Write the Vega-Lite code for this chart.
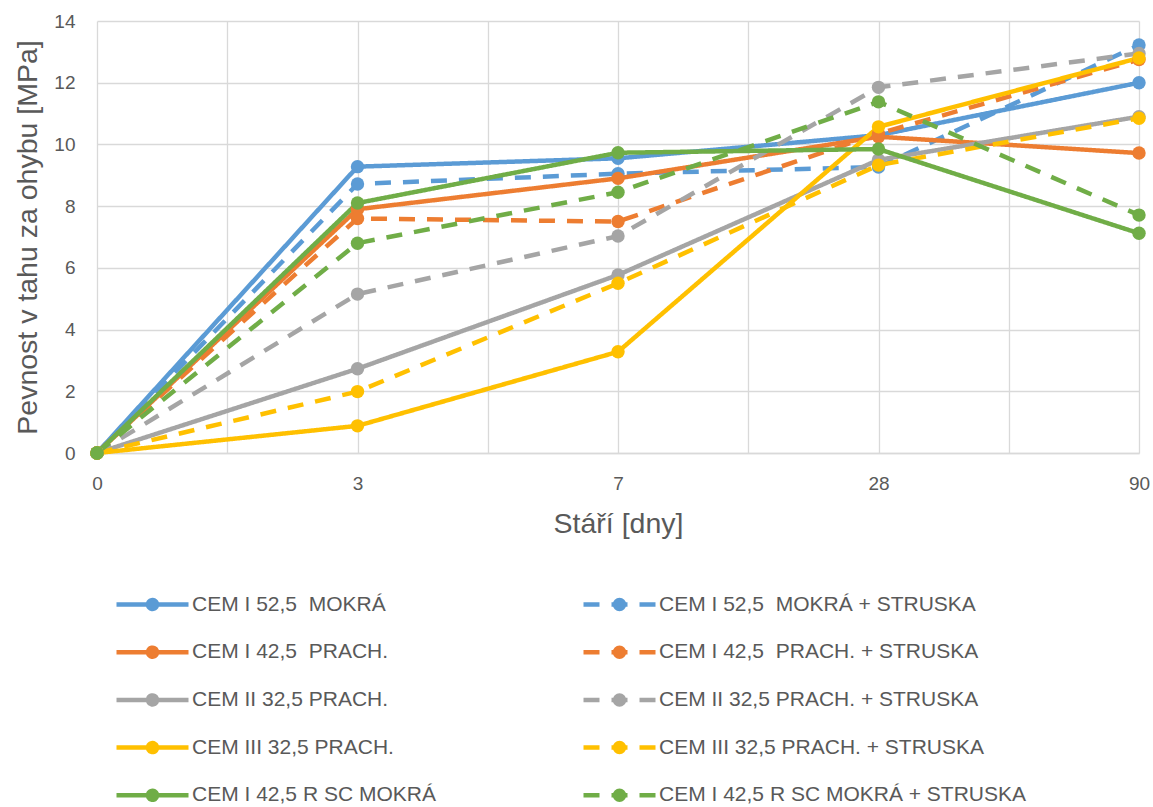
{
  "$schema": "https://vega.github.io/schema/vega-lite/v6.json",
  "autosize": "none",
  "width": 1042,
  "height": 432,
  "padding": {"left": 97, "top": 21, "right": 14, "bottom": 354},
  "background": "white",
  "config": {
    "font": "Liberation Sans",
    "view": {"stroke": null},
    "axis": {"labelColor": "#595959", "titleColor": "#595959", "labelFont": "Liberation Sans", "titleFont": "Liberation Sans", "labelFontSize": 19, "titleFontSize": 28.5, "titleFontWeight": "normal", "gridColor": "#D9D9D9", "gridWidth": 1.3, "ticks": false}
  },
  "datasets": {
    "pts": [
      {"s": "CEM I 52,5  MOKRÁ", "i": 0, "t": "0", "v": 0},
      {"s": "CEM I 52,5  MOKRÁ", "i": 1, "t": "3", "v": 9.28},
      {"s": "CEM I 52,5  MOKRÁ", "i": 2, "t": "7", "v": 9.55},
      {"s": "CEM I 52,5  MOKRÁ", "i": 3, "t": "28", "v": 10.3},
      {"s": "CEM I 52,5  MOKRÁ", "i": 4, "t": "90", "v": 12.0},
      {"s": "CEM I 52,5  MOKRÁ + STRUSKA", "i": 0, "t": "0", "v": 0},
      {"s": "CEM I 52,5  MOKRÁ + STRUSKA", "i": 1, "t": "3", "v": 8.72},
      {"s": "CEM I 52,5  MOKRÁ + STRUSKA", "i": 2, "t": "7", "v": 9.05},
      {"s": "CEM I 52,5  MOKRÁ + STRUSKA", "i": 3, "t": "28", "v": 9.27},
      {"s": "CEM I 52,5  MOKRÁ + STRUSKA", "i": 4, "t": "90", "v": 13.22},
      {"s": "CEM I 42,5  PRACH.", "i": 0, "t": "0", "v": 0},
      {"s": "CEM I 42,5  PRACH.", "i": 1, "t": "3", "v": 7.9},
      {"s": "CEM I 42,5  PRACH.", "i": 2, "t": "7", "v": 8.9},
      {"s": "CEM I 42,5  PRACH.", "i": 3, "t": "28", "v": 10.25},
      {"s": "CEM I 42,5  PRACH.", "i": 4, "t": "90", "v": 9.72},
      {"s": "CEM I 42,5  PRACH. + STRUSKA", "i": 0, "t": "0", "v": 0},
      {"s": "CEM I 42,5  PRACH. + STRUSKA", "i": 1, "t": "3", "v": 7.6},
      {"s": "CEM I 42,5  PRACH. + STRUSKA", "i": 2, "t": "7", "v": 7.5},
      {"s": "CEM I 42,5  PRACH. + STRUSKA", "i": 3, "t": "28", "v": 10.35},
      {"s": "CEM I 42,5  PRACH. + STRUSKA", "i": 4, "t": "90", "v": 12.75},
      {"s": "CEM II 32,5 PRACH.", "i": 0, "t": "0", "v": 0},
      {"s": "CEM II 32,5 PRACH.", "i": 1, "t": "3", "v": 2.73},
      {"s": "CEM II 32,5 PRACH.", "i": 2, "t": "7", "v": 5.77},
      {"s": "CEM II 32,5 PRACH.", "i": 3, "t": "28", "v": 9.5},
      {"s": "CEM II 32,5 PRACH.", "i": 4, "t": "90", "v": 10.9},
      {"s": "CEM II 32,5 PRACH. + STRUSKA", "i": 0, "t": "0", "v": 0},
      {"s": "CEM II 32,5 PRACH. + STRUSKA", "i": 1, "t": "3", "v": 5.15},
      {"s": "CEM II 32,5 PRACH. + STRUSKA", "i": 2, "t": "7", "v": 7.03},
      {"s": "CEM II 32,5 PRACH. + STRUSKA", "i": 3, "t": "28", "v": 11.85},
      {"s": "CEM II 32,5 PRACH. + STRUSKA", "i": 4, "t": "90", "v": 12.95},
      {"s": "CEM III 32,5 PRACH.", "i": 0, "t": "0", "v": 0},
      {"s": "CEM III 32,5 PRACH.", "i": 1, "t": "3", "v": 0.88},
      {"s": "CEM III 32,5 PRACH.", "i": 2, "t": "7", "v": 3.28},
      {"s": "CEM III 32,5 PRACH.", "i": 3, "t": "28", "v": 10.57},
      {"s": "CEM III 32,5 PRACH.", "i": 4, "t": "90", "v": 12.8},
      {"s": "CEM III 32,5 PRACH. + STRUSKA", "i": 0, "t": "0", "v": 0},
      {"s": "CEM III 32,5 PRACH. + STRUSKA", "i": 1, "t": "3", "v": 1.99},
      {"s": "CEM III 32,5 PRACH. + STRUSKA", "i": 2, "t": "7", "v": 5.5},
      {"s": "CEM III 32,5 PRACH. + STRUSKA", "i": 3, "t": "28", "v": 9.33},
      {"s": "CEM III 32,5 PRACH. + STRUSKA", "i": 4, "t": "90", "v": 10.85},
      {"s": "CEM I 42,5 R SC MOKRÁ", "i": 0, "t": "0", "v": 0},
      {"s": "CEM I 42,5 R SC MOKRÁ", "i": 1, "t": "3", "v": 8.1},
      {"s": "CEM I 42,5 R SC MOKRÁ", "i": 2, "t": "7", "v": 9.73},
      {"s": "CEM I 42,5 R SC MOKRÁ", "i": 3, "t": "28", "v": 9.85},
      {"s": "CEM I 42,5 R SC MOKRÁ", "i": 4, "t": "90", "v": 7.12},
      {"s": "CEM I 42,5 R SC MOKRÁ + STRUSKA", "i": 0, "t": "0", "v": 0},
      {"s": "CEM I 42,5 R SC MOKRÁ + STRUSKA", "i": 1, "t": "3", "v": 6.8},
      {"s": "CEM I 42,5 R SC MOKRÁ + STRUSKA", "i": 2, "t": "7", "v": 8.45},
      {"s": "CEM I 42,5 R SC MOKRÁ + STRUSKA", "i": 3, "t": "28", "v": 11.38},
      {"s": "CEM I 42,5 R SC MOKRÁ + STRUSKA", "i": 4, "t": "90", "v": 7.71}
    ]
  },
  "data": {"name": "pts"},
  "encoding": {
    "x": {
      "field": "i", "type": "quantitative",
      "scale": {"domain": [0, 4], "nice": false, "zero": false},
      "axis": {
        "title": "Stáří [dny]",
        "values": [0, 0.5, 1, 1.5, 2, 2.5, 3, 3.5, 4],
        "labelExpr": "datum.value == 0 ? '0' : datum.value == 1 ? '3' : datum.value == 2 ? '7' : datum.value == 3 ? '28' : datum.value == 4 ? '90' : ''",
        "labelPadding": 21, "titlePadding": 16,
        "domain": true, "domainColor": "#D9D9D9", "domainWidth": 1.3,
        "labelFlush": false
      }
    },
    "y": {
      "field": "v", "type": "quantitative",
      "scale": {"domain": [0, 14], "nice": false},
      "axis": {
        "title": "Pevnost v tahu za ohybu [MPa]",
        "values": [0, 2, 4, 6, 8, 10, 12, 14],
        "labelPadding": 22, "titlePadding": 11, "domain": false
      }
    },
    "color": {
      "field": "s", "type": "nominal",
      "scale": {
        "domain": ["CEM I 52,5  MOKRÁ", "CEM I 52,5  MOKRÁ + STRUSKA", "CEM I 42,5  PRACH.", "CEM I 42,5  PRACH. + STRUSKA", "CEM II 32,5 PRACH.", "CEM II 32,5 PRACH. + STRUSKA", "CEM III 32,5 PRACH.", "CEM III 32,5 PRACH. + STRUSKA", "CEM I 42,5 R SC MOKRÁ", "CEM I 42,5 R SC MOKRÁ + STRUSKA"],
        "range": ["#5B9BD5", "#5B9BD5", "#ED7D31", "#ED7D31", "#A5A5A5", "#A5A5A5", "#FFC000", "#FFC000", "#70AD47", "#70AD47"]
      },
      "legend": {
        "title": null,
        "orient": "none",
        "legendX": 43, "legendY": 571,
        "columns": 2,
        "direction": "horizontal",
        "columnPadding": 14,
        "rowPadding": 20.7,
        "gridAlign": "all",
        "symbolType": "M-3.6,0H3.6M-0.45,0A0.45,0.45,0,0,1,0.45,0M0.45,0A0.45,0.45,0,0,1,-0.45,0",
        "symbolSize": 400,
        "symbolStrokeWidth": 4.5,
        "labelFontSize": 21,
        "labelColor": "#595959",
        "labelOffset": 27,
        "labelLimit": 500,
        "labelExpr": "replace(datum.label, '  ', ' \u00a0')",
        "encode": {"symbols": {"update": {"fill": {"scale": "color", "field": "value"}, "fillOpacity": {"value": 1}, "opacity": {"value": 1}}}}
      }
    }
  },
  "layer": [
    {
      "mark": {"type": "line", "strokeWidth": 4.5, "strokeCap": "butt", "strokeJoin": "round"},
      "encoding": {
        "strokeDash": {
          "field": "s", "type": "nominal",
          "scale": {
            "domain": ["CEM I 52,5  MOKRÁ", "CEM I 52,5  MOKRÁ + STRUSKA", "CEM I 42,5  PRACH.", "CEM I 42,5  PRACH. + STRUSKA", "CEM II 32,5 PRACH.", "CEM II 32,5 PRACH. + STRUSKA", "CEM III 32,5 PRACH.", "CEM III 32,5 PRACH. + STRUSKA", "CEM I 42,5 R SC MOKRÁ", "CEM I 42,5 R SC MOKRÁ + STRUSKA"],
            "range": [[1, 0], [16, 12], [1, 0], [16, 12], [1, 0], [16, 12], [1, 0], [16, 12], [1, 0], [16, 12]]
          }
        },
        "order": {"field": "i"}
      }
    },
    {
      "mark": {"type": "point", "filled": true, "opacity": 1, "size": 180, "shape": "circle"}
    }
  ]
}
